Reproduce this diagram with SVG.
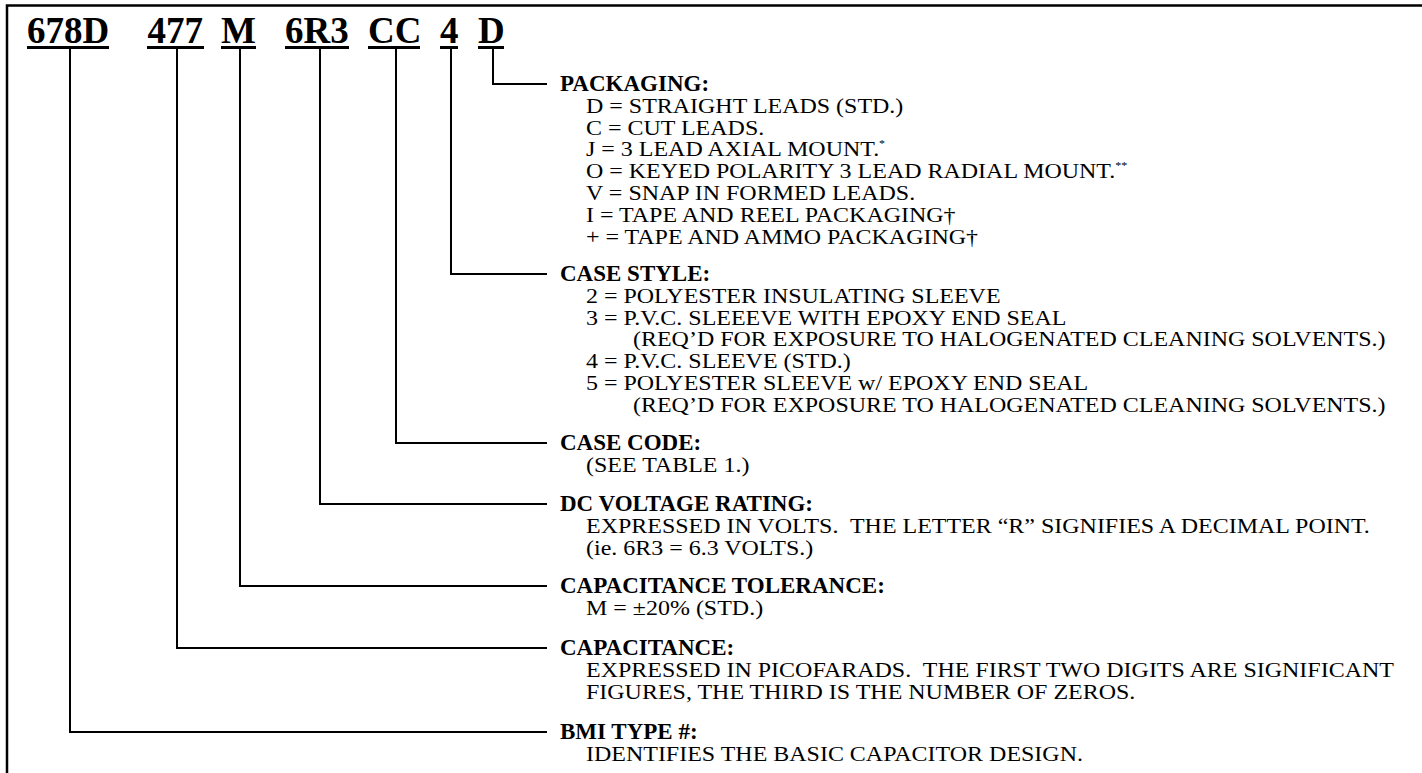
<svg xmlns="http://www.w3.org/2000/svg" width="1422" height="773" viewBox="0 0 1422 773">
<style>
text{font-family:"Liberation Serif","Times New Roman",serif;fill:#000;white-space:pre}
.h{font-size:37px;font-weight:bold}
.t{font-size:23px;font-weight:bold}
.b{font-size:22px}
.sup{font-size:11px}
.c{stroke:#000;stroke-width:2;fill:none}
.u{stroke:#000;stroke-width:3}
.f{stroke:#000;stroke-width:2.5;fill:none}
</style>
<rect width="1422" height="773" fill="#fff"/>
<path class="f" d="M7,773 V5.5 H1422"/>
<g id="header">
<text class="h" x="27" y="43">678D</text>
<text class="h" x="147.5" y="43">477</text>
<text class="h" x="221" y="43">M</text>
<text class="h" x="285" y="43">6R3</text>
<text class="h" x="368" y="43">CC</text>
<text class="h" x="440" y="43">4</text>
<text class="h" x="478" y="43">D</text>
<line class="u" x1="27" y1="47.5" x2="109" y2="47.5"/>
<line class="u" x1="147" y1="47.5" x2="204" y2="47.5"/>
<line class="u" x1="221" y1="47.5" x2="256" y2="47.5"/>
<line class="u" x1="285" y1="47.5" x2="349" y2="47.5"/>
<line class="u" x1="368" y1="47.5" x2="420" y2="47.5"/>
<line class="u" x1="440" y1="47.5" x2="458" y2="47.5"/>
<line class="u" x1="478" y1="47.5" x2="504" y2="47.5"/>
</g>
<g id="connectors">
<path class="c" d="M493,49 V84 H547"/>
<path class="c" d="M451,49 V274 H547"/>
<path class="c" d="M396,49 V443 H547"/>
<path class="c" d="M320,49 V504 H547"/>
<path class="c" d="M240,49 V586 H547"/>
<path class="c" d="M177,49 V648 H547"/>
<path class="c" d="M70,49 V732 H547"/>
</g>
<g id="packaging">
<text class="t" x="560" y="91">PACKAGING:</text>
<text class="b" transform="matrix(1.09,0,0,1,586,112.8)">D = STRAIGHT LEADS (STD.)</text>
<text class="b" transform="matrix(1.09,0,0,1,586,134.6)">C = CUT LEADS.</text>
<text class="b" transform="matrix(1.09,0,0,1,586,156.4)">J = 3 LEAD AXIAL MOUNT.<tspan class="sup" dy="-9">*</tspan></text>
<text class="b" transform="matrix(1.09,0,0,1,586,178.2)">O = KEYED POLARITY 3 LEAD RADIAL MOUNT.<tspan class="sup" dy="-9">**</tspan></text>
<text class="b" transform="matrix(1.09,0,0,1,586,200)">V = SNAP IN FORMED LEADS.</text>
<text class="b" transform="matrix(1.09,0,0,1,586,221.8)">I = TAPE AND REEL PACKAGING†</text>
<text class="b" transform="matrix(1.09,0,0,1,586,243.6)">+ = TAPE AND AMMO PACKAGING†</text>
</g>
<g id="case-style">
<text class="t" x="560" y="281">CASE STYLE:</text>
<text class="b" transform="matrix(1.09,0,0,1,586,302.8)">2 = POLYESTER INSULATING SLEEVE</text>
<text class="b" transform="matrix(1.09,0,0,1,586,324.6)">3 = P.V.C. SLEEEVE WITH EPOXY END SEAL</text>
<text class="b" transform="matrix(1.09,0,0,1,633,346.4)">(REQ’D FOR EXPOSURE TO HALOGENATED CLEANING SOLVENTS.)</text>
<text class="b" transform="matrix(1.09,0,0,1,586,368.2)">4 = P.V.C. SLEEVE (STD.)</text>
<text class="b" transform="matrix(1.09,0,0,1,586,390)">5 = POLYESTER SLEEVE w/ EPOXY END SEAL</text>
<text class="b" transform="matrix(1.09,0,0,1,633,411.8)">(REQ’D FOR EXPOSURE TO HALOGENATED CLEANING SOLVENTS.)</text>
</g>
<g id="case-code">
<text class="t" x="560" y="450">CASE CODE:</text>
<text class="b" transform="matrix(1.09,0,0,1,586,471.8)">(SEE TABLE 1.)</text>
</g>
<g id="dc-voltage">
<text class="t" x="560" y="511">DC VOLTAGE RATING:</text>
<text class="b" transform="matrix(1.09,0,0,1,586,532.8)">EXPRESSED IN VOLTS.  THE LETTER “R” SIGNIFIES A DECIMAL POINT.</text>
<text class="b" transform="matrix(1.09,0,0,1,586,554.6)">(ie. 6R3 = 6.3 VOLTS.)</text>
</g>
<g id="cap-tolerance">
<text class="t" x="560" y="593">CAPACITANCE TOLERANCE:</text>
<text class="b" transform="matrix(1.09,0,0,1,586,614.8)">M = ±20% (STD.)</text>
</g>
<g id="capacitance">
<text class="t" x="560" y="655">CAPACITANCE:</text>
<text class="b" transform="matrix(1.09,0,0,1,586,676.8)">EXPRESSED IN PICOFARADS.  THE FIRST TWO DIGITS ARE SIGNIFICANT</text>
<text class="b" transform="matrix(1.09,0,0,1,586,698.6)">FIGURES, THE THIRD IS THE NUMBER OF ZEROS.</text>
</g>
<g id="bmi-type">
<text class="t" x="560" y="739">BMI TYPE #:</text>
<text class="b" transform="matrix(1.09,0,0,1,586,760.8)">IDENTIFIES THE BASIC CAPACITOR DESIGN.</text>
</g>
</svg>
